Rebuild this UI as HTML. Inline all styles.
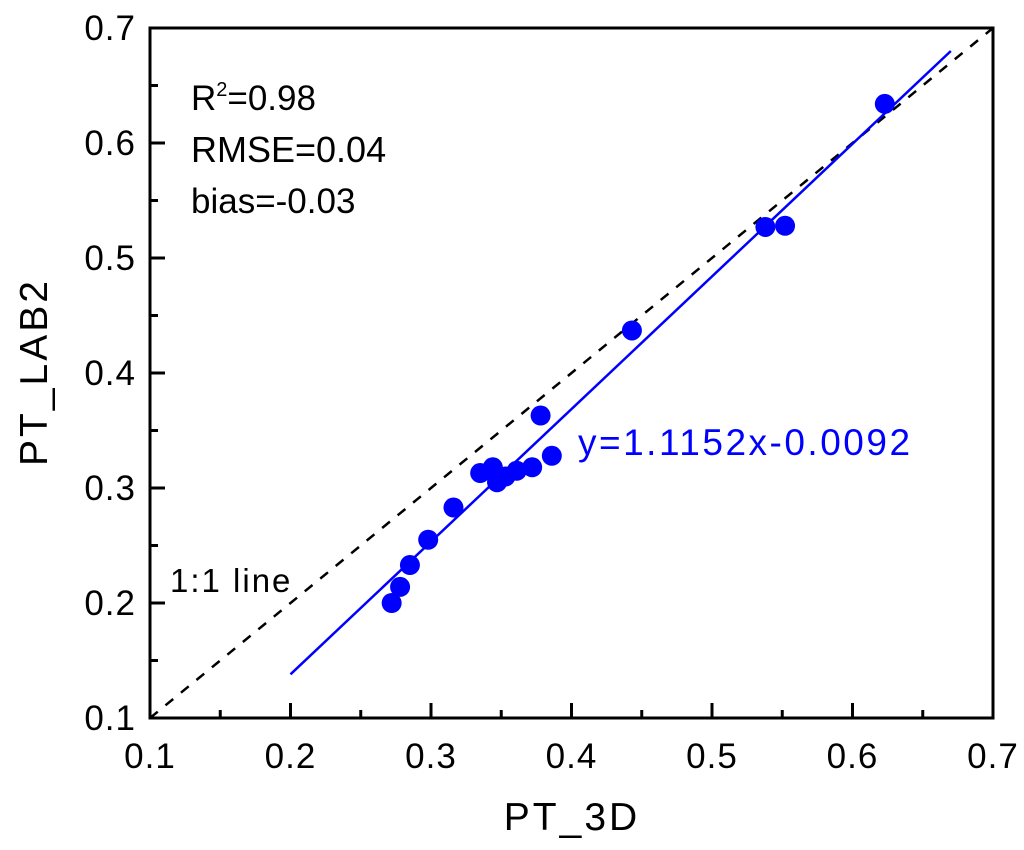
<!DOCTYPE html>
<html><head><meta charset="utf-8"><style>
html,body{margin:0;padding:0;background:#fff;}
svg{display:block;font-family:"Liberation Sans",Arial,sans-serif;}
</style></head><body>
<svg id="chart" width="1024" height="850" viewBox="0 0 1024 850"></svg>
<script>
const ptX=[0.272,0.278,0.285,0.298,0.316,0.335,0.344,0.347,0.353,0.361,0.372,0.378,0.386,0.443,0.538,0.552,0.623];
const ptY=[0.200,0.214,0.233,0.255,0.283,0.313,0.318,0.305,0.310,0.315,0.318,0.363,0.328,0.437,0.527,0.528,0.634];
const fitX=[0.2,0.67];
const fitY=[0.138,0.68];
const oneX=[0.1,0.7];
const oneY=[0.1,0.7];
const xTicks=[0.1,0.2,0.3,0.4,0.5,0.6,0.7];
const yTicks=[0.1,0.2,0.3,0.4,0.5,0.6,0.7];
const L=150,R=993,T=28,B=718;
const sx=v=>L+(v-0.1)/0.6*(R-L);
const sy=v=>B-(v-0.1)/0.6*(B-T);
const svg=document.getElementById('chart');
const NS='http://www.w3.org/2000/svg';
function mk(tag,attrs,parent){const e=document.createElementNS(NS,tag);for(const k in attrs)e.setAttribute(k,attrs[k]);(parent||svg).appendChild(e);return e;}
let e=mk('line',{x1:sx(oneX[0]),y1:sy(oneY[0]),x2:sx(oneX[1]),y2:sy(oneY[1]),stroke:'#000','stroke-width':2.5,'stroke-dasharray':'10,10'});


e=mk('line',{x1:sx(fitX[0]),y1:sy(fitY[0]),x2:sx(fitX[1]),y2:sy(fitY[1]),stroke:'#0000ff','stroke-width':2.5});


ptX.forEach((x,i)=>{
  const c=mk('circle',{cx:sx(x),cy:sy(ptY[i]),r:10,fill:'#0000ff'});
  
  
});
e=mk('rect',{x:L,y:T,width:R-L,height:B-T,fill:'none',stroke:'#000','stroke-width':3});


for(let v=0.1;v<=0.7001;v+=0.05){
  const major=Math.abs(Math.round(v*10)-v*10)<1e-6;
  const len=major?15:8;
  const X=sx(v),Y=sy(v);
  mk('line',{x1:X,y1:B,x2:X,y2:B-len,stroke:'#000','stroke-width':3});
  mk('line',{x1:L,y1:Y,x2:L+len,y2:Y,stroke:'#000','stroke-width':3});
}
xTicks.forEach(v=>{
  const t=mk('text',{x:sx(v),y:768,'font-size':35,'letter-spacing':1,'text-anchor':'middle',fill:'#000'});
  t.textContent=v.toFixed(1);
  
  
});
yTicks.forEach(v=>{
  const t=mk('text',{x:L-14,y:sy(v)+12,'font-size':35,'letter-spacing':1,'text-anchor':'end',fill:'#000'});
  t.textContent=v.toFixed(1);
  
  
});
</script>
<svg style="position:absolute;left:0;top:0" width="1024" height="850">
<text x="572" y="830" font-size="39" letter-spacing="3" text-anchor="middle" font-family="Liberation Sans, sans-serif">PT_3D</text>
<text transform="translate(47,372) rotate(-90)" font-size="39" letter-spacing="3" text-anchor="middle" font-family="Liberation Sans, sans-serif">PT_LAB2</text>
<text x="191" y="110" font-size="35" font-family="Liberation Sans, sans-serif">R<tspan dy="-14" font-size="20">2</tspan><tspan dy="14">=0.98</tspan></text>
<text x="191" y="162" font-size="36" font-family="Liberation Sans, sans-serif">RMSE=0.04</text>
<text x="191" y="213" font-size="35" font-family="Liberation Sans, sans-serif">bias=-0.03</text>
<text x="578" y="455" font-size="37" letter-spacing="2.5" fill="#0000ff" font-family="Liberation Sans, sans-serif">y=1.1152x-0.0092</text>
<text x="170" y="592" font-size="33" letter-spacing="2" font-family="Liberation Sans, sans-serif">1:1 line</text>
</svg>
</body></html>
